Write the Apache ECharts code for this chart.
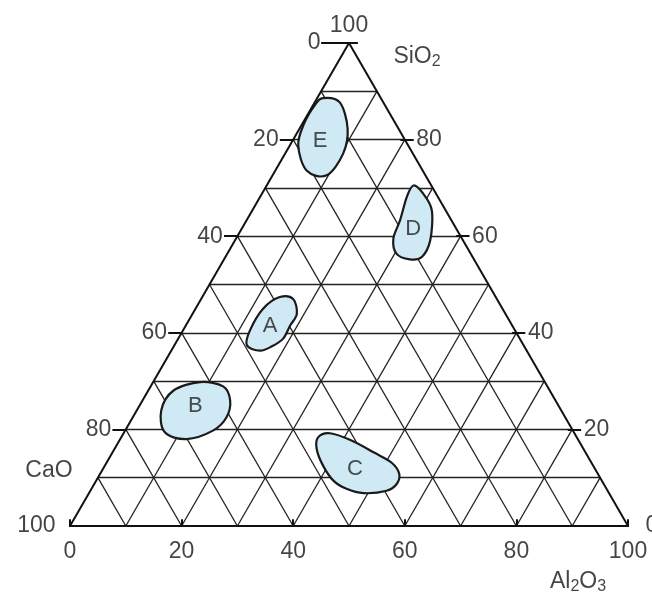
<!DOCTYPE html>
<html>
<head>
<meta charset="utf-8">
<script src="https://cdn.jsdelivr.net/npm/echarts@6/dist/echarts.min.js"></script>
<style>
html, body { margin: 0; padding: 0; background: #fff; }
#chart { width: 652px; height: 596px; }
</style>
</head>
<body>
<div id="chart"></div>
<script>
// points are [Al2O3, SiO2] in %, CaO = 100 - both
const gridSteps = [10, 20, 30, 40, 50, 60, 70, 80, 90]
const tickValues = [0, 20, 40, 60, 80, 100]
const fieldNames = ['A', 'B', 'C', 'D', 'E']
const fieldA = [[13.9, 47.4], [16.5, 47.0], [18.7, 43.9], [18.7, 41.5], [18.8, 38.8], [17.6, 37.2], [15.9, 36.3], [13.0, 37.4], [12.0, 40.5], [12.1, 45.0]]
const fieldB = [[8.4, 29.8], [13.0, 28.9], [15.7, 26.0], [16.8, 22.5], [15.8, 19.8], [11.9, 18.0], [7.3, 19.4], [4.4, 23.9], [4.5, 28.0]]
const fieldC = [[35.3, 18.4], [37.0, 19.2], [41.6, 17.7], [46.9, 15.2], [51.1, 13.1], [53.6, 10.8], [54.2, 8.7], [53.1, 7.3], [49.2, 6.8], [45.7, 7.7], [42.5, 9.4], [39.1, 12.5], [36.2, 16.0]]
const fieldD = [[26.3, 70.5], [28.9, 68.8], [32.2, 65.3], [35.0, 59.1], [35.2, 55.7], [33.3, 55.2], [30.3, 56.4], [28.2, 59.5], [27.5, 63.3], [26.3, 68.1]]
const fieldE = [[1.0, 88.6], [4.5, 87.7], [8.6, 82.3], [10.4, 77.1], [9.7, 72.6], [5.6, 73.6], [1.5, 78.8], [0.3, 83.3], [0.3, 87.1]]
const fieldLabelPos = [[15.1, 41.5], [10.0, 24.9], [45.1, 11.9], [30.7, 61.6], [4.9, 79.8]]

const fields = [fieldA, fieldB, fieldC, fieldD, fieldE]
const H = Math.sqrt(3) / 2
const tern = (a, s) => [a + s / 2, s * H]

const chart = echarts.init(document.getElementById('chart'))
const font = 'Liberation Sans, Arial, sans-serif'
const txt = '#151515'

// closed catmull-rom outline through the pixel points
function blobPath(pts) {
  const n = pts.length
  const f = v => v.toFixed(2)
  let d = 'M' + f(pts[0][0]) + ',' + f(pts[0][1])
  for (let i = 0; i < n; i++) {
    const p0 = pts[(i - 1 + n) % n], p1 = pts[i], p2 = pts[(i + 1) % n], p3 = pts[(i + 2) % n]
    const c1 = [p1[0] + (p2[0] - p0[0]) / 6, p1[1] + (p2[1] - p0[1]) / 6]
    const c2 = [p2[0] - (p3[0] - p1[0]) / 6, p2[1] - (p3[1] - p1[1]) / 6]
    d += 'C' + f(c1[0]) + ',' + f(c1[1]) + ' ' + f(c2[0]) + ',' + f(c2[1]) + ' ' + f(p2[0]) + ',' + f(p2[1])
  }
  return d + 'Z'
}

// grid lines
const gridLines = []
gridSteps.forEach(v => {
  gridLines.push({ coords: [tern(0, v), tern(100 - v, v)] }) // SiO2 const
  gridLines.push({ coords: [tern(v, 0), tern(v, 100 - v)] }) // Al2O3 const
  gridLines.push({ coords: [tern(100 - v, 0), tern(0, 100 - v)] }) // CaO const
})
const frame = [
  { coords: [tern(0, 0), tern(100, 0)] },
  { coords: [tern(100, 0), tern(0, 100)] },
  { coords: [tern(0, 100), tern(0, 0)] }
]

// tick marks
const ticks = []
tickValues.forEach(t => {
  const l = tern(0, 100 - t)
  ticks.push({ coords: [[l[0] - (t === 0 ? 5 : 2.4), l[1]], [l[0] + 0.2, l[1]]] })
  const r = tern(100 - t, t)
  ticks.push({ coords: [[r[0] - 0.8, r[1]], [r[0] + 1.6, r[1]]] })
  const b = tern(t, 0)
  ticks.push({ coords: [[b[0], b[1] - 0.9], [b[0], b[1] + 1.2]] })
})

const tickLabels = []
tickValues.forEach(t => {
  tickLabels.push({
    value: tern(0, 100 - t),
    label: { position: 'left', distance: t === 0 ? 28 : 14, formatter: String(t) }
  })
  tickLabels.push({
    value: tern(100 - t, t),
    label: t === 100
      ? { position: 'top', distance: 5, formatter: String(t) }
      : { position: 'right', distance: t === 0 ? 17 : 11, formatter: String(t) }
  })
  tickLabels.push({
    value: tern(t, 0),
    label: { position: 'bottom', distance: 14, formatter: String(t) }
  })
})

const nameLabels = [
  { value: tern(0, 100), label: { offset: [68, 14], formatter: '{n|SiO}{s|2}' } },
  { value: tern(0, 0), label: { offset: [-21, -55], formatter: '{n|CaO}' } },
  { value: tern(100, 0), label: { offset: [-50, 56], formatter: '{n|Al}{s|2}{n|O}{s|3}' } }
]

const option = {
  backgroundColor: '#fff',
  animation: false,
  grid: { left: 70, right: 24, top: 43, bottom: 70 },
  xAxis: { type: 'value', min: 0, max: 100, show: false },
  yAxis: { type: 'value', min: 0, max: 100 * H, show: false },
  series: [
    {
      type: 'lines',
      coordinateSystem: 'cartesian2d',
      silent: true,
      data: gridLines,
      lineStyle: { color: '#222', width: 1.3, opacity: 1 }
    },
    {
      type: 'custom',
      silent: true,
      data: fields.map((f, i) => [i]),
      renderItem: (params, api) => {
        const pts = fields[params.dataIndex].map(p => api.coord(tern(p[0], p[1])))
        return {
          type: 'path',
          shape: { pathData: blobPath(pts), layout: 'cover' },
          style: { fill: '#cfe9f5', stroke: '#1a1a1a', lineWidth: 2.2 }
        }
      }
    },
    {
      type: 'lines',
      coordinateSystem: 'cartesian2d',
      silent: true,
      data: frame.concat(ticks),
      lineStyle: { color: '#111', width: 2, opacity: 1 }
    },
    {
      type: 'scatter',
      silent: true,
      symbolSize: 1,
      itemStyle: { color: 'rgba(0,0,0,0)' },
      label: { show: true, color: txt, fontSize: 23, fontFamily: font },
      data: tickLabels
    },
    {
      type: 'scatter',
      silent: true,
      symbolSize: 1,
      itemStyle: { color: 'rgba(0,0,0,0)' },
      label: {
        show: true, position: 'inside', color: txt, fontFamily: font,
        rich: {
          n: { fontSize: 23, fontFamily: font, color: txt, lineHeight: 26 },
          s: { fontSize: 16, fontFamily: font, color: txt, lineHeight: 14, verticalAlign: 'bottom', padding: [14, 0, 0, 0] }
        }
      },
      data: nameLabels
    },
    {
      type: 'scatter',
      silent: true,
      symbolSize: 1,
      itemStyle: { color: 'rgba(0,0,0,0)' },
      label: {
        show: true, position: 'inside', color: '#222', fontSize: 22, fontFamily: font,
        formatter: p => fieldNames[p.dataIndex]
      },
      data: fieldLabelPos.map(p => tern(p[0], p[1]))
    }
  ]
}

chart.setOption(option)
window.addEventListener('resize', () => chart.resize())
</script>
</body>
</html>
